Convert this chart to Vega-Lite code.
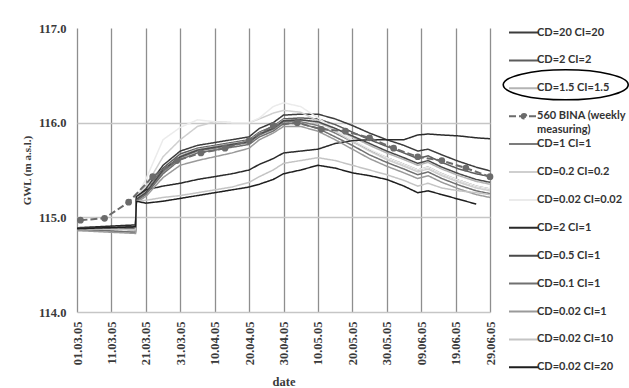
{
  "$schema": "https://vega.github.io/schema/vega-lite/v6.json",
  "width": 413,
  "height": 284,
  "autosize": {"type": "none"},
  "padding": {"left": 77, "top": 28, "right": 139, "bottom": 76},
  "background": "white",
  "config": {"view": {"stroke": null}},
  "datasets": {
    "sim": [
      {"s":"CD=20 CI=20","d":"2005-03-01","v":114.88},{"s":"CD=20 CI=20","d":"2005-03-18","v":114.90},{"s":"CD=20 CI=20","d":"2005-03-18T06:00Z","v":115.22},{"s":"CD=20 CI=20","d":"2005-03-21","v":115.30},{"s":"CD=20 CI=20","d":"2005-03-26","v":115.55},{"s":"CD=20 CI=20","d":"2005-03-31","v":115.70},{"s":"CD=20 CI=20","d":"2005-04-05","v":115.76},{"s":"CD=20 CI=20","d":"2005-04-10","v":115.79},{"s":"CD=20 CI=20","d":"2005-04-15","v":115.82},{"s":"CD=20 CI=20","d":"2005-04-20","v":115.85},{"s":"CD=20 CI=20","d":"2005-04-23","v":115.94},{"s":"CD=20 CI=20","d":"2005-04-27","v":116.00},{"s":"CD=20 CI=20","d":"2005-04-30","v":116.08},{"s":"CD=20 CI=20","d":"2005-05-05","v":116.09},{"s":"CD=20 CI=20","d":"2005-05-10","v":116.09},{"s":"CD=20 CI=20","d":"2005-05-15","v":116.04},{"s":"CD=20 CI=20","d":"2005-05-20","v":115.97},{"s":"CD=20 CI=20","d":"2005-05-25","v":115.89},{"s":"CD=20 CI=20","d":"2005-05-30","v":115.82},{"s":"CD=20 CI=20","d":"2005-06-04","v":115.76},{"s":"CD=20 CI=20","d":"2005-06-08","v":115.70},{"s":"CD=20 CI=20","d":"2005-06-11","v":115.72},{"s":"CD=20 CI=20","d":"2005-06-15","v":115.66},{"s":"CD=20 CI=20","d":"2005-06-20","v":115.59},{"s":"CD=20 CI=20","d":"2005-06-25","v":115.53},{"s":"CD=20 CI=20","d":"2005-06-29","v":115.49},
      {"s":"CD=2 CI=2","d":"2005-03-01","v":114.87},{"s":"CD=2 CI=2","d":"2005-03-18","v":114.88},{"s":"CD=2 CI=2","d":"2005-03-18T06:00Z","v":115.20},{"s":"CD=2 CI=2","d":"2005-03-21","v":115.27},{"s":"CD=2 CI=2","d":"2005-03-26","v":115.52},{"s":"CD=2 CI=2","d":"2005-03-31","v":115.67},{"s":"CD=2 CI=2","d":"2005-04-05","v":115.73},{"s":"CD=2 CI=2","d":"2005-04-10","v":115.76},{"s":"CD=2 CI=2","d":"2005-04-15","v":115.79},{"s":"CD=2 CI=2","d":"2005-04-20","v":115.82},{"s":"CD=2 CI=2","d":"2005-04-23","v":115.90},{"s":"CD=2 CI=2","d":"2005-04-27","v":115.96},{"s":"CD=2 CI=2","d":"2005-04-30","v":116.04},{"s":"CD=2 CI=2","d":"2005-05-05","v":116.05},{"s":"CD=2 CI=2","d":"2005-05-10","v":116.04},{"s":"CD=2 CI=2","d":"2005-05-15","v":115.98},{"s":"CD=2 CI=2","d":"2005-05-20","v":115.90},{"s":"CD=2 CI=2","d":"2005-05-25","v":115.82},{"s":"CD=2 CI=2","d":"2005-05-30","v":115.75},{"s":"CD=2 CI=2","d":"2005-06-04","v":115.68},{"s":"CD=2 CI=2","d":"2005-06-08","v":115.62},{"s":"CD=2 CI=2","d":"2005-06-11","v":115.65},{"s":"CD=2 CI=2","d":"2005-06-15","v":115.58},{"s":"CD=2 CI=2","d":"2005-06-20","v":115.51},{"s":"CD=2 CI=2","d":"2005-06-25","v":115.46},{"s":"CD=2 CI=2","d":"2005-06-29","v":115.43},
      {"s":"CD=1.5 CI=1.5","d":"2005-03-01","v":114.88},{"s":"CD=1.5 CI=1.5","d":"2005-03-18","v":114.86},{"s":"CD=1.5 CI=1.5","d":"2005-03-18T06:00Z","v":115.20},{"s":"CD=1.5 CI=1.5","d":"2005-03-21","v":115.27},{"s":"CD=1.5 CI=1.5","d":"2005-03-26","v":115.50},{"s":"CD=1.5 CI=1.5","d":"2005-03-31","v":115.65},{"s":"CD=1.5 CI=1.5","d":"2005-04-05","v":115.72},{"s":"CD=1.5 CI=1.5","d":"2005-04-10","v":115.75},{"s":"CD=1.5 CI=1.5","d":"2005-04-15","v":115.78},{"s":"CD=1.5 CI=1.5","d":"2005-04-20","v":115.81},{"s":"CD=1.5 CI=1.5","d":"2005-04-23","v":115.89},{"s":"CD=1.5 CI=1.5","d":"2005-04-27","v":115.95},{"s":"CD=1.5 CI=1.5","d":"2005-04-30","v":116.03},{"s":"CD=1.5 CI=1.5","d":"2005-05-05","v":116.03},{"s":"CD=1.5 CI=1.5","d":"2005-05-10","v":116.00},{"s":"CD=1.5 CI=1.5","d":"2005-05-15","v":115.93},{"s":"CD=1.5 CI=1.5","d":"2005-05-20","v":115.85},{"s":"CD=1.5 CI=1.5","d":"2005-05-25","v":115.76},{"s":"CD=1.5 CI=1.5","d":"2005-05-30","v":115.68},{"s":"CD=1.5 CI=1.5","d":"2005-06-04","v":115.61},{"s":"CD=1.5 CI=1.5","d":"2005-06-08","v":115.55},{"s":"CD=1.5 CI=1.5","d":"2005-06-11","v":115.58},{"s":"CD=1.5 CI=1.5","d":"2005-06-15","v":115.51},{"s":"CD=1.5 CI=1.5","d":"2005-06-20","v":115.44},{"s":"CD=1.5 CI=1.5","d":"2005-06-25","v":115.38},{"s":"CD=1.5 CI=1.5","d":"2005-06-29","v":115.35},
      {"s":"CD=1 CI=1","d":"2005-03-01","v":114.87},{"s":"CD=1 CI=1","d":"2005-03-18","v":114.85},{"s":"CD=1 CI=1","d":"2005-03-18T06:00Z","v":115.18},{"s":"CD=1 CI=1","d":"2005-03-21","v":115.25},{"s":"CD=1 CI=1","d":"2005-03-26","v":115.48},{"s":"CD=1 CI=1","d":"2005-03-31","v":115.63},{"s":"CD=1 CI=1","d":"2005-04-05","v":115.70},{"s":"CD=1 CI=1","d":"2005-04-10","v":115.73},{"s":"CD=1 CI=1","d":"2005-04-15","v":115.76},{"s":"CD=1 CI=1","d":"2005-04-20","v":115.79},{"s":"CD=1 CI=1","d":"2005-04-23","v":115.87},{"s":"CD=1 CI=1","d":"2005-04-27","v":115.93},{"s":"CD=1 CI=1","d":"2005-04-30","v":116.01},{"s":"CD=1 CI=1","d":"2005-05-05","v":116.01},{"s":"CD=1 CI=1","d":"2005-05-10","v":115.97},{"s":"CD=1 CI=1","d":"2005-05-15","v":115.89},{"s":"CD=1 CI=1","d":"2005-05-20","v":115.80},{"s":"CD=1 CI=1","d":"2005-05-25","v":115.71},{"s":"CD=1 CI=1","d":"2005-05-30","v":115.63},{"s":"CD=1 CI=1","d":"2005-06-04","v":115.56},{"s":"CD=1 CI=1","d":"2005-06-08","v":115.50},{"s":"CD=1 CI=1","d":"2005-06-11","v":115.53},{"s":"CD=1 CI=1","d":"2005-06-15","v":115.46},{"s":"CD=1 CI=1","d":"2005-06-20","v":115.39},{"s":"CD=1 CI=1","d":"2005-06-25","v":115.33},{"s":"CD=1 CI=1","d":"2005-06-29","v":115.30},
      {"s":"CD=0.2 CI=0.2","d":"2005-03-01","v":114.88},{"s":"CD=0.2 CI=0.2","d":"2005-03-18","v":114.86},{"s":"CD=0.2 CI=0.2","d":"2005-03-18T06:00Z","v":115.21},{"s":"CD=0.2 CI=0.2","d":"2005-03-21","v":115.33},{"s":"CD=0.2 CI=0.2","d":"2005-03-26","v":115.64},{"s":"CD=0.2 CI=0.2","d":"2005-03-31","v":115.82},{"s":"CD=0.2 CI=0.2","d":"2005-04-05","v":115.96},{"s":"CD=0.2 CI=0.2","d":"2005-04-10","v":116.01},{"s":"CD=0.2 CI=0.2","d":"2005-04-15","v":116.00},{"s":"CD=0.2 CI=0.2","d":"2005-04-20","v":116.00},{"s":"CD=0.2 CI=0.2","d":"2005-04-23","v":116.04},{"s":"CD=0.2 CI=0.2","d":"2005-04-27","v":116.10},{"s":"CD=0.2 CI=0.2","d":"2005-04-30","v":116.13},{"s":"CD=0.2 CI=0.2","d":"2005-05-05","v":116.11},{"s":"CD=0.2 CI=0.2","d":"2005-05-10","v":116.02},{"s":"CD=0.2 CI=0.2","d":"2005-05-15","v":115.91},{"s":"CD=0.2 CI=0.2","d":"2005-05-20","v":115.80},{"s":"CD=0.2 CI=0.2","d":"2005-05-25","v":115.70},{"s":"CD=0.2 CI=0.2","d":"2005-05-30","v":115.61},{"s":"CD=0.2 CI=0.2","d":"2005-06-04","v":115.54},{"s":"CD=0.2 CI=0.2","d":"2005-06-08","v":115.48},{"s":"CD=0.2 CI=0.2","d":"2005-06-11","v":115.51},{"s":"CD=0.2 CI=0.2","d":"2005-06-15","v":115.44},{"s":"CD=0.2 CI=0.2","d":"2005-06-20","v":115.37},{"s":"CD=0.2 CI=0.2","d":"2005-06-25","v":115.31},{"s":"CD=0.2 CI=0.2","d":"2005-06-29","v":115.28},
      {"s":"CD=0.02 CI=0.02","d":"2005-03-01","v":114.88},{"s":"CD=0.02 CI=0.02","d":"2005-03-18","v":114.86},{"s":"CD=0.02 CI=0.02","d":"2005-03-18T06:00Z","v":115.22},{"s":"CD=0.02 CI=0.02","d":"2005-03-21","v":115.40},{"s":"CD=0.02 CI=0.02","d":"2005-03-26","v":115.82},{"s":"CD=0.02 CI=0.02","d":"2005-03-31","v":115.95},{"s":"CD=0.02 CI=0.02","d":"2005-04-05","v":116.03},{"s":"CD=0.02 CI=0.02","d":"2005-04-10","v":116.01},{"s":"CD=0.02 CI=0.02","d":"2005-04-15","v":116.00},{"s":"CD=0.02 CI=0.02","d":"2005-04-20","v":116.00},{"s":"CD=0.02 CI=0.02","d":"2005-04-23","v":116.05},{"s":"CD=0.02 CI=0.02","d":"2005-04-27","v":116.17},{"s":"CD=0.02 CI=0.02","d":"2005-04-30","v":116.21},{"s":"CD=0.02 CI=0.02","d":"2005-05-05","v":116.17},{"s":"CD=0.02 CI=0.02","d":"2005-05-10","v":116.05},{"s":"CD=0.02 CI=0.02","d":"2005-05-15","v":115.93},{"s":"CD=0.02 CI=0.02","d":"2005-05-20","v":115.82},{"s":"CD=0.02 CI=0.02","d":"2005-05-25","v":115.72},{"s":"CD=0.02 CI=0.02","d":"2005-05-30","v":115.63},{"s":"CD=0.02 CI=0.02","d":"2005-06-04","v":115.56},{"s":"CD=0.02 CI=0.02","d":"2005-06-08","v":115.50},{"s":"CD=0.02 CI=0.02","d":"2005-06-11","v":115.53},{"s":"CD=0.02 CI=0.02","d":"2005-06-15","v":115.46},{"s":"CD=0.02 CI=0.02","d":"2005-06-20","v":115.39},{"s":"CD=0.02 CI=0.02","d":"2005-06-25","v":115.33},{"s":"CD=0.02 CI=0.02","d":"2005-06-29","v":115.30},
      {"s":"CD=2 CI=1","d":"2005-03-01","v":114.89},{"s":"CD=2 CI=1","d":"2005-03-18","v":114.92},{"s":"CD=2 CI=1","d":"2005-03-18T06:00Z","v":115.22},{"s":"CD=2 CI=1","d":"2005-03-21","v":115.29},{"s":"CD=2 CI=1","d":"2005-03-26","v":115.33},{"s":"CD=2 CI=1","d":"2005-03-31","v":115.36},{"s":"CD=2 CI=1","d":"2005-04-05","v":115.40},{"s":"CD=2 CI=1","d":"2005-04-10","v":115.43},{"s":"CD=2 CI=1","d":"2005-04-15","v":115.46},{"s":"CD=2 CI=1","d":"2005-04-20","v":115.50},{"s":"CD=2 CI=1","d":"2005-04-23","v":115.56},{"s":"CD=2 CI=1","d":"2005-04-27","v":115.62},{"s":"CD=2 CI=1","d":"2005-04-30","v":115.68},{"s":"CD=2 CI=1","d":"2005-05-05","v":115.70},{"s":"CD=2 CI=1","d":"2005-05-10","v":115.72},{"s":"CD=2 CI=1","d":"2005-05-15","v":115.78},{"s":"CD=2 CI=1","d":"2005-05-20","v":115.81},{"s":"CD=2 CI=1","d":"2005-05-25","v":115.82},{"s":"CD=2 CI=1","d":"2005-05-30","v":115.82},{"s":"CD=2 CI=1","d":"2005-06-04","v":115.82},{"s":"CD=2 CI=1","d":"2005-06-08","v":115.87},{"s":"CD=2 CI=1","d":"2005-06-11","v":115.88},{"s":"CD=2 CI=1","d":"2005-06-15","v":115.87},{"s":"CD=2 CI=1","d":"2005-06-20","v":115.86},{"s":"CD=2 CI=1","d":"2005-06-25","v":115.84},{"s":"CD=2 CI=1","d":"2005-06-29","v":115.83},
      {"s":"CD=0.5 CI=1","d":"2005-03-01","v":114.89},{"s":"CD=0.5 CI=1","d":"2005-03-18","v":114.87},{"s":"CD=0.5 CI=1","d":"2005-03-18T06:00Z","v":115.19},{"s":"CD=0.5 CI=1","d":"2005-03-21","v":115.26},{"s":"CD=0.5 CI=1","d":"2005-03-26","v":115.50},{"s":"CD=0.5 CI=1","d":"2005-03-31","v":115.64},{"s":"CD=0.5 CI=1","d":"2005-04-05","v":115.71},{"s":"CD=0.5 CI=1","d":"2005-04-10","v":115.74},{"s":"CD=0.5 CI=1","d":"2005-04-15","v":115.77},{"s":"CD=0.5 CI=1","d":"2005-04-20","v":115.80},{"s":"CD=0.5 CI=1","d":"2005-04-23","v":115.88},{"s":"CD=0.5 CI=1","d":"2005-04-27","v":115.94},{"s":"CD=0.5 CI=1","d":"2005-04-30","v":116.02},{"s":"CD=0.5 CI=1","d":"2005-05-05","v":116.03},{"s":"CD=0.5 CI=1","d":"2005-05-10","v":116.01},{"s":"CD=0.5 CI=1","d":"2005-05-15","v":115.94},{"s":"CD=0.5 CI=1","d":"2005-05-20","v":115.86},{"s":"CD=0.5 CI=1","d":"2005-05-25","v":115.78},{"s":"CD=0.5 CI=1","d":"2005-05-30","v":115.70},{"s":"CD=0.5 CI=1","d":"2005-06-04","v":115.63},{"s":"CD=0.5 CI=1","d":"2005-06-08","v":115.57},{"s":"CD=0.5 CI=1","d":"2005-06-11","v":115.60},{"s":"CD=0.5 CI=1","d":"2005-06-15","v":115.53},{"s":"CD=0.5 CI=1","d":"2005-06-20","v":115.46},{"s":"CD=0.5 CI=1","d":"2005-06-25","v":115.40},{"s":"CD=0.5 CI=1","d":"2005-06-29","v":115.37},
      {"s":"CD=0.1 CI=1","d":"2005-03-01","v":114.88},{"s":"CD=0.1 CI=1","d":"2005-03-18","v":114.84},{"s":"CD=0.1 CI=1","d":"2005-03-18T06:00Z","v":115.17},{"s":"CD=0.1 CI=1","d":"2005-03-21","v":115.24},{"s":"CD=0.1 CI=1","d":"2005-03-26","v":115.46},{"s":"CD=0.1 CI=1","d":"2005-03-31","v":115.61},{"s":"CD=0.1 CI=1","d":"2005-04-05","v":115.68},{"s":"CD=0.1 CI=1","d":"2005-04-10","v":115.71},{"s":"CD=0.1 CI=1","d":"2005-04-15","v":115.74},{"s":"CD=0.1 CI=1","d":"2005-04-20","v":115.77},{"s":"CD=0.1 CI=1","d":"2005-04-23","v":115.85},{"s":"CD=0.1 CI=1","d":"2005-04-27","v":115.91},{"s":"CD=0.1 CI=1","d":"2005-04-30","v":115.99},{"s":"CD=0.1 CI=1","d":"2005-05-05","v":115.99},{"s":"CD=0.1 CI=1","d":"2005-05-10","v":115.94},{"s":"CD=0.1 CI=1","d":"2005-05-15","v":115.85},{"s":"CD=0.1 CI=1","d":"2005-05-20","v":115.76},{"s":"CD=0.1 CI=1","d":"2005-05-25","v":115.66},{"s":"CD=0.1 CI=1","d":"2005-05-30","v":115.58},{"s":"CD=0.1 CI=1","d":"2005-06-04","v":115.51},{"s":"CD=0.1 CI=1","d":"2005-06-08","v":115.45},{"s":"CD=0.1 CI=1","d":"2005-06-11","v":115.48},{"s":"CD=0.1 CI=1","d":"2005-06-15","v":115.41},{"s":"CD=0.1 CI=1","d":"2005-06-20","v":115.34},{"s":"CD=0.1 CI=1","d":"2005-06-25","v":115.28},{"s":"CD=0.1 CI=1","d":"2005-06-29","v":115.25},
      {"s":"CD=0.02 CI=1","d":"2005-03-01","v":114.86},{"s":"CD=0.02 CI=1","d":"2005-03-18","v":114.83},{"s":"CD=0.02 CI=1","d":"2005-03-18T06:00Z","v":115.16},{"s":"CD=0.02 CI=1","d":"2005-03-21","v":115.22},{"s":"CD=0.02 CI=1","d":"2005-03-26","v":115.42},{"s":"CD=0.02 CI=1","d":"2005-03-31","v":115.55},{"s":"CD=0.02 CI=1","d":"2005-04-05","v":115.60},{"s":"CD=0.02 CI=1","d":"2005-04-10","v":115.64},{"s":"CD=0.02 CI=1","d":"2005-04-15","v":115.68},{"s":"CD=0.02 CI=1","d":"2005-04-20","v":115.73},{"s":"CD=0.02 CI=1","d":"2005-04-23","v":115.82},{"s":"CD=0.02 CI=1","d":"2005-04-27","v":115.89},{"s":"CD=0.02 CI=1","d":"2005-04-30","v":115.96},{"s":"CD=0.02 CI=1","d":"2005-05-05","v":115.96},{"s":"CD=0.02 CI=1","d":"2005-05-10","v":115.91},{"s":"CD=0.02 CI=1","d":"2005-05-15","v":115.82},{"s":"CD=0.02 CI=1","d":"2005-05-20","v":115.72},{"s":"CD=0.02 CI=1","d":"2005-05-25","v":115.62},{"s":"CD=0.02 CI=1","d":"2005-05-30","v":115.54},{"s":"CD=0.02 CI=1","d":"2005-06-04","v":115.47},{"s":"CD=0.02 CI=1","d":"2005-06-08","v":115.41},{"s":"CD=0.02 CI=1","d":"2005-06-11","v":115.44},{"s":"CD=0.02 CI=1","d":"2005-06-15","v":115.37},{"s":"CD=0.02 CI=1","d":"2005-06-20","v":115.30},{"s":"CD=0.02 CI=1","d":"2005-06-25","v":115.24},{"s":"CD=0.02 CI=1","d":"2005-06-29","v":115.21},
      {"s":"CD=0.02 CI=10","d":"2005-03-01","v":114.88},{"s":"CD=0.02 CI=10","d":"2005-03-18","v":114.87},{"s":"CD=0.02 CI=10","d":"2005-03-18T06:00Z","v":115.17},{"s":"CD=0.02 CI=10","d":"2005-03-21","v":115.18},{"s":"CD=0.02 CI=10","d":"2005-03-26","v":115.21},{"s":"CD=0.02 CI=10","d":"2005-03-31","v":115.23},{"s":"CD=0.02 CI=10","d":"2005-04-05","v":115.26},{"s":"CD=0.02 CI=10","d":"2005-04-10","v":115.29},{"s":"CD=0.02 CI=10","d":"2005-04-15","v":115.32},{"s":"CD=0.02 CI=10","d":"2005-04-20","v":115.37},{"s":"CD=0.02 CI=10","d":"2005-04-23","v":115.43},{"s":"CD=0.02 CI=10","d":"2005-04-27","v":115.50},{"s":"CD=0.02 CI=10","d":"2005-04-30","v":115.57},{"s":"CD=0.02 CI=10","d":"2005-05-05","v":115.60},{"s":"CD=0.02 CI=10","d":"2005-05-10","v":115.63},{"s":"CD=0.02 CI=10","d":"2005-05-15","v":115.60},{"s":"CD=0.02 CI=10","d":"2005-05-20","v":115.55},{"s":"CD=0.02 CI=10","d":"2005-05-25","v":115.50},{"s":"CD=0.02 CI=10","d":"2005-05-30","v":115.45},{"s":"CD=0.02 CI=10","d":"2005-06-04","v":115.39},{"s":"CD=0.02 CI=10","d":"2005-06-08","v":115.33},{"s":"CD=0.02 CI=10","d":"2005-06-11","v":115.36},{"s":"CD=0.02 CI=10","d":"2005-06-15","v":115.31},{"s":"CD=0.02 CI=10","d":"2005-06-20","v":115.28},{"s":"CD=0.02 CI=10","d":"2005-06-25","v":115.26},{"s":"CD=0.02 CI=10","d":"2005-06-29","v":115.24},
      {"s":"CD=0.02 CI=20","d":"2005-03-01","v":114.88},{"s":"CD=0.02 CI=20","d":"2005-03-18","v":114.90},{"s":"CD=0.02 CI=20","d":"2005-03-18T06:00Z","v":115.17},{"s":"CD=0.02 CI=20","d":"2005-03-21","v":115.15},{"s":"CD=0.02 CI=20","d":"2005-03-26","v":115.17},{"s":"CD=0.02 CI=20","d":"2005-03-31","v":115.20},{"s":"CD=0.02 CI=20","d":"2005-04-05","v":115.23},{"s":"CD=0.02 CI=20","d":"2005-04-10","v":115.26},{"s":"CD=0.02 CI=20","d":"2005-04-15","v":115.29},{"s":"CD=0.02 CI=20","d":"2005-04-20","v":115.32},{"s":"CD=0.02 CI=20","d":"2005-04-23","v":115.35},{"s":"CD=0.02 CI=20","d":"2005-04-27","v":115.40},{"s":"CD=0.02 CI=20","d":"2005-04-30","v":115.46},{"s":"CD=0.02 CI=20","d":"2005-05-05","v":115.50},{"s":"CD=0.02 CI=20","d":"2005-05-10","v":115.55},{"s":"CD=0.02 CI=20","d":"2005-05-15","v":115.52},{"s":"CD=0.02 CI=20","d":"2005-05-20","v":115.47},{"s":"CD=0.02 CI=20","d":"2005-05-25","v":115.44},{"s":"CD=0.02 CI=20","d":"2005-05-30","v":115.40},{"s":"CD=0.02 CI=20","d":"2005-06-04","v":115.33},{"s":"CD=0.02 CI=20","d":"2005-06-08","v":115.26},{"s":"CD=0.02 CI=20","d":"2005-06-11","v":115.28},{"s":"CD=0.02 CI=20","d":"2005-06-15","v":115.24},{"s":"CD=0.02 CI=20","d":"2005-06-20","v":115.19},{"s":"CD=0.02 CI=20","d":"2005-06-25","v":115.14}
    ],
    "bina": [
      {"s":"560 BINA (weekly measuring)","d":"2005-03-02","v":114.97},
      {"s":"560 BINA (weekly measuring)","d":"2005-03-09","v":114.99},
      {"s":"560 BINA (weekly measuring)","d":"2005-03-16","v":115.16},
      {"s":"560 BINA (weekly measuring)","d":"2005-03-23","v":115.43},
      {"s":"560 BINA (weekly measuring)","d":"2005-03-30","v":115.60},
      {"s":"560 BINA (weekly measuring)","d":"2005-04-06","v":115.68},
      {"s":"560 BINA (weekly measuring)","d":"2005-04-13","v":115.73},
      {"s":"560 BINA (weekly measuring)","d":"2005-04-20","v":115.81},
      {"s":"560 BINA (weekly measuring)","d":"2005-04-27","v":115.97},
      {"s":"560 BINA (weekly measuring)","d":"2005-05-04","v":116.00},
      {"s":"560 BINA (weekly measuring)","d":"2005-05-11","v":115.93},
      {"s":"560 BINA (weekly measuring)","d":"2005-05-18","v":115.91},
      {"s":"560 BINA (weekly measuring)","d":"2005-05-25","v":115.84},
      {"s":"560 BINA (weekly measuring)","d":"2005-06-01","v":115.73},
      {"s":"560 BINA (weekly measuring)","d":"2005-06-08","v":115.64},
      {"s":"560 BINA (weekly measuring)","d":"2005-06-15","v":115.60},
      {"s":"560 BINA (weekly measuring)","d":"2005-06-22","v":115.52},
      {"s":"560 BINA (weekly measuring)","d":"2005-06-29","v":115.43}
    ],
    "note": [{"d":"2005-07-21","v":116.40}]
  },
  "encoding": {
    "x": {
      "field": "d", "type": "temporal",
      "scale": {"type": "utc", "nice": false, "domain": [{"year":2005,"month":3,"date":1,"utc":true},{"year":2005,"month":6,"date":29,"utc":true}]},
      "axis": {
        "title": "date",
        "values": [
          {"year":2005,"month":3,"date":1,"utc":true},{"year":2005,"month":3,"date":11,"utc":true},{"year":2005,"month":3,"date":21,"utc":true},{"year":2005,"month":3,"date":31,"utc":true},{"year":2005,"month":4,"date":10,"utc":true},{"year":2005,"month":4,"date":20,"utc":true},{"year":2005,"month":4,"date":30,"utc":true},{"year":2005,"month":5,"date":10,"utc":true},{"year":2005,"month":5,"date":20,"utc":true},{"year":2005,"month":5,"date":30,"utc":true},{"year":2005,"month":6,"date":9,"utc":true},{"year":2005,"month":6,"date":19,"utc":true},{"year":2005,"month":6,"date":29,"utc":true}
        ],
        "labelExpr": "utcFormat(datum.value, '%d.%m.%y')",
        "labelAngle": -90, "labelAlign": "right", "labelBaseline": "middle", "labelPadding": 9,
        "labelFont": "Liberation Serif", "labelFontSize": 12.5, "labelFontWeight": "bold", "labelColor": "#3a3a3a",
        "labelOverlap": false, "labelFlush": false, "labelBound": false,
        "titleFont": "Liberation Serif", "titleFontSize": 12.5, "titleFontWeight": "bold", "titleColor": "#3a3a3a", "titlePadding": 11,
        "domain": false, "ticks": false, "tickSize": 0,
        "grid": true, "gridColor": "#8e8e8e", "gridWidth": 1.3
      }
    },
    "y": {
      "field": "v", "type": "quantitative",
      "scale": {"domain": [114, 117], "nice": false, "zero": false},
      "axis": {
        "title": "GWL (m a.s.l.)",
        "values": [114, 115, 116, 117], "format": ".1f",
        "labelFont": "Liberation Serif", "labelFontSize": 12.5, "labelFontWeight": "bold", "labelColor": "#3a3a3a", "labelPadding": 11,
        "titleFont": "Liberation Serif", "titleFontSize": 11, "titleFontWeight": "bold", "titleColor": "#3a3a3a", "titlePadding": 6,
        "domain": false, "ticks": false, "tickSize": 0,
        "grid": true, "gridWidth": 1.5,
        "gridColor": {"condition": {"test": "datum.value === 117", "value": "transparent"}, "value": "#c6c6c6"}
      }
    }
  },
  "layer": [
    {
      "data": {"name": "sim"},
      "mark": {"type": "line", "strokeWidth": 1.5},
      "encoding": {
        "color": {
          "field": "s", "type": "nominal",
          "scale": {
            "domain": ["CD=20 CI=20","CD=2 CI=2","CD=1.5 CI=1.5","560 BINA (weekly measuring)","CD=1 CI=1","CD=0.2 CI=0.2","CD=0.02 CI=0.02","CD=2 CI=1","CD=0.5 CI=1","CD=0.1 CI=1","CD=0.02 CI=1","CD=0.02 CI=10","CD=0.02 CI=20"],
            "range": ["#3c3c3c","#5c5c5c","#b4b4b4","#6b6b6b","#7c7c7c","#cfcfcf","#ebebeb","#2a2a2a","#4a4a4a","#707070","#9a9a9a","#c4c4c4","#1e1e1e"]
          },
          "legend": {
            "title": null, "orient": "none", "legendX": 431, "legendY": -1,
            "symbolType": "stroke", "symbolSize": 900, "symbolStrokeWidth": 2,
            "labelFont": "Lato", "labelFontSize": 11, "labelFontWeight": "bold", "labelColor": "#333333",
            "labelOffset": -3, "labelLimit": 200, "rowPadding": 1.9, "gridAlign": "all", "clipHeight": 11,
            "labelExpr": "datum.label === '560 BINA (weekly measuring)' ? ['560 BINA (weekly', 'measuring)'] : datum.label",
            "encode": {
              "labels": {"update": {"lineHeight": {"value": 14}}},
              "symbols": {"update": {
                "shape": {"signal": "datum.value === '560 BINA (weekly measuring)' ? 'M-1,0H1M-0.15,0C-0.15,-0.083 -0.083,-0.15 0,-0.15C0.083,-0.15 0.15,-0.083 0.15,0C0.15,0.083 0.083,0.15 0,0.15C-0.083,0.15 -0.15,0.083 -0.15,0Z' : 'stroke'"},
                "fill": {"signal": "datum.value === '560 BINA (weekly measuring)' ? '#6b6b6b' : 'transparent'"}
              }}
            }
          }
        },
        "strokeDash": {
          "field": "s", "type": "nominal",
          "scale": {
            "domain": ["CD=20 CI=20","CD=2 CI=2","CD=1.5 CI=1.5","560 BINA (weekly measuring)","CD=1 CI=1","CD=0.2 CI=0.2","CD=0.02 CI=0.02","CD=2 CI=1","CD=0.5 CI=1","CD=0.1 CI=1","CD=0.02 CI=1","CD=0.02 CI=10","CD=0.02 CI=20"],
            "range": [[1,0],[1,0],[1,0],[7,3],[1,0],[1,0],[1,0],[1,0],[1,0],[1,0],[1,0],[1,0],[1,0]]
          },
          "legend": {
            "title": null, "orient": "none", "legendX": 431, "legendY": -1,
            "symbolType": "stroke", "symbolSize": 900, "symbolStrokeWidth": 2,
            "labelFont": "Lato", "labelFontSize": 11, "labelFontWeight": "bold", "labelColor": "#333333",
            "labelOffset": -3, "labelLimit": 200, "rowPadding": 1.9, "gridAlign": "all", "clipHeight": 11,
            "labelExpr": "datum.label === '560 BINA (weekly measuring)' ? ['560 BINA (weekly', 'measuring)'] : datum.label"
          }
        }
      }
    },
    {
      "data": {"name": "bina"},
      "mark": {"type": "line", "strokeWidth": 2},
      "encoding": {
        "color": {"field": "s", "type": "nominal"},
        "strokeDash": {"field": "s", "type": "nominal"}
      }
    },
    {
      "data": {"name": "bina"},
      "mark": {"type": "point", "filled": true, "color": "#6b6b6b", "size": 45, "opacity": 1}
    },
    {
      "data": {"name": "note"},
      "mark": {
        "type": "point", "filled": false, "stroke": "#000000", "strokeWidth": 1.6, "opacity": 1, "size": 15625,
        "shape": "M-1,0C-1,-0.1325 -0.5523,-0.24 0,-0.24C0.5523,-0.24 1,-0.1325 1,0C1,0.1325 0.5523,0.24 0,0.24C-0.5523,0.24 -1,0.1325 -1,0Z"
      }
    }
  ]
}
